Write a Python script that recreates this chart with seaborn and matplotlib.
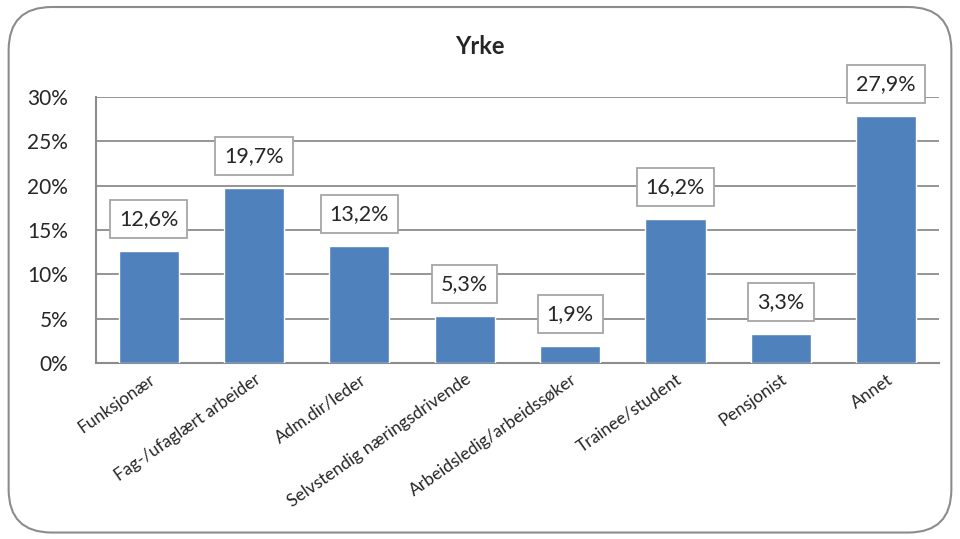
import matplotlib
matplotlib.use("Agg")
import matplotlib.pyplot as plt
from matplotlib.patches import FancyBboxPatch
import seaborn as sns
import pandas as pd

# data
categories = ["Funksjonær", "Fag-/ufaglært arbeider", "Adm.dir/leder",
              "Selvstendig næringsdrivende", "Arbeidsledig/arbeidssøker",
              "Trainee/student", "Pensjonist", "Annet"]
values = [12.6, 19.7, 13.2, 5.3, 1.9, 16.2, 3.3, 27.9]
yticks = [0, 5, 10, 15, 20, 25, 30]

df = pd.DataFrame({"Yrke": categories, "Andel": values})

sns.set_style("white")
plt.rcParams['font.family'] = ['Lato', 'DejaVu Sans']

fig = plt.figure(figsize=(9.6, 5.39), dpi=100)
ax = fig.add_axes([0.1, 0.3265, 0.878, 0.4935])

# rounded outer border
border = FancyBboxPatch((0.009, 0.012), 0.982, 0.975,
                        boxstyle="round,pad=0,rounding_size=0.045",
                        transform=fig.transFigure, facecolor="none",
                        edgecolor="#8c8c8c", linewidth=1.5, mutation_aspect=1.78)
fig.patches.append(border)

sns.barplot(data=df, x="Yrke", y="Andel", color="#4F81BD", saturation=1,
            width=0.57, ax=ax, zorder=3)

ax.set_ylim(0, 30)
ax.set_yticks(yticks)
ax.set_yticklabels([f"{t}%" for t in yticks], fontsize=15)
ax.yaxis.grid(True, color="#8c8c8c", linewidth=1.3, zorder=0)
ax.set_axisbelow(True)
ax.tick_params(axis="y", length=0, pad=20)
ax.tick_params(axis="x", length=0, pad=6)
ax.set_xticks(range(len(categories)))
ax.set_xticklabels(categories, rotation=35, ha="right", rotation_mode="anchor",
                   fontsize=12.5)
ax.set_xlabel("")
ax.set_ylabel("")
for s in ["top", "right"]:
    ax.spines[s].set_visible(False)
for s in ["left", "bottom"]:
    ax.spines[s].set_color("#8c8c8c")
    ax.spines[s].set_linewidth(1.5)

for i, v in enumerate(values):
    ax.annotate(f"{v:.1f}%".replace(".", ","), xy=(i, v), xytext=(0, 23),
                textcoords="offset points", ha="center", va="center",
                fontsize=15.5, annotation_clip=False, zorder=5,
                bbox=dict(boxstyle="square,pad=0.42", facecolor="white",
                          edgecolor="#a6a6a6", linewidth=1.3))

fig.text(0.5, 0.913, "Yrke", ha="center", va="center", fontsize=17,
         fontweight="bold")

fig.savefig("out.png", dpi=100)
